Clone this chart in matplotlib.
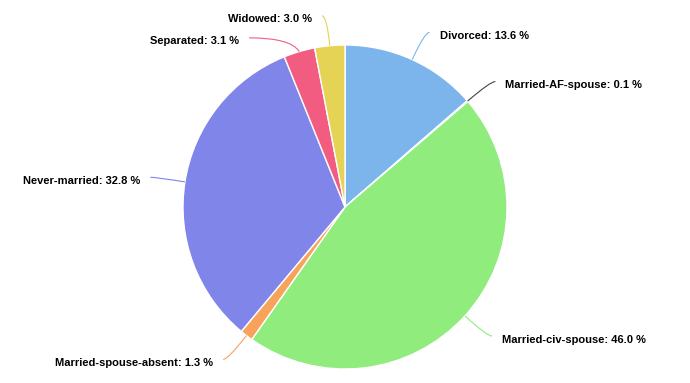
import matplotlib

matplotlib.use("Agg")
import matplotlib.pyplot as plt
import numpy as np
from matplotlib.path import Path
from matplotlib.patches import PathPatch

categories = ["Divorced", "Married-AF-spouse", "Married-civ-spouse",
              "Married-spouse-absent", "Never-married", "Separated", "Widowed"]
shares = [13.6, 0.1, 46.0, 1.3, 32.8, 3.1, 3.0]
colors = ["#7cb5ec", "#434348", "#90ed7d", "#f7a35c", "#8085e9", "#f15c80", "#e4d354"]

W, H = 690, 383
cx, cy, r = 345, H - 207, 162
dist = 30

fig = plt.figure(figsize=(W / 100, H / 100), dpi=100)
ax = fig.add_axes([0, 0, 1, 1])
ax.pie(shares, colors=colors, startangle=90, counterclock=False,
       center=(cx, cy), radius=r, wedgeprops=dict(edgecolor="white", linewidth=1))
ax.set_xlim(0, W)
ax.set_ylim(0, H)
ax.set_aspect("equal")
ax.axis("off")

# label anchors, Highcharts-style (distance beyond the rim, then de-overlap per side)
total = sum(shares)
cum = np.cumsum([0] + shares[:-1])
mids = np.deg2rad((cum + np.array(shares) / 2) / total * 360)
labels = []
for i, a in enumerate(mids):
    side = 1 if np.sin(a) >= 0 else -1
    ex, ey = cx + r * np.sin(a), cy + r * np.cos(a)
    lx, ly = cx + (r + dist) * np.sin(a), cy + (r + dist) * np.cos(a)
    labels.append(dict(i=i, side=side, ex=ex, ey=ey, lx0=lx, lx=lx, ly=ly))

gap = 22
for side in (1, -1):
    grp = sorted([l for l in labels if l["side"] == side], key=lambda l: -l["ly"])
    for prev, cur in zip(grp, grp[1:]):
        if prev["ly"] - cur["ly"] < gap:
            cur["ly"] = prev["ly"] - gap
            dy = cur["ly"] - cy
            cur["lx"] = cx + side * np.sqrt(max((r + dist) ** 2 - dy ** 2, 0))

for l in labels:
    i, side = l["i"], l["side"]
    p0 = (l["ex"], l["ey"])
    p1 = (l["lx0"], l["ly"])
    p2 = (l["lx"] + side * 5, l["ly"])
    path = Path([p0, p1, p2], [Path.MOVETO, Path.CURVE3, Path.CURVE3])
    ax.add_patch(PathPatch(path, facecolor="none", edgecolor=colors[i], linewidth=0.8))
    ax.text(l["lx"] + side * 15, l["ly"] - 3.5, f"{categories[i]}: {shares[i]:.1f} %",
            ha="left" if side > 0 else "right", va="center",
            fontsize=8, fontweight="bold", family="Liberation Sans", color="#000000")

fig.savefig("out.png", dpi=100)
plt.close(fig)
